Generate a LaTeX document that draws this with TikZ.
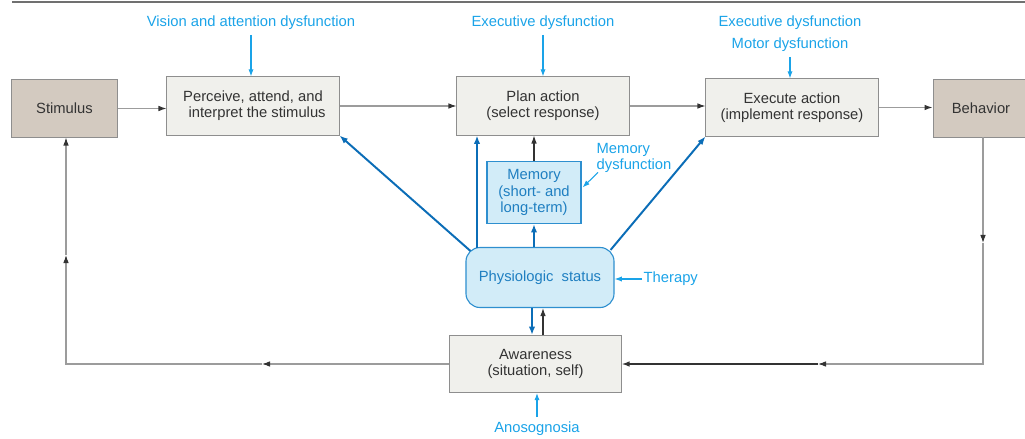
\documentclass[tikz,border=0pt]{standalone}
\usepackage{fontspec}
\setmainfont{Liberation Sans}
\usetikzlibrary{arrows.meta}
\definecolor{figink}{HTML}{333333}
\definecolor{figline}{HTML}{9C9C9C}
\definecolor{figrule}{HTML}{707070}
\definecolor{figboxfill}{HTML}{F0F0EC}
\definecolor{figboxdraw}{HTML}{8E8E8E}
\definecolor{figtan}{HTML}{D3CAC0}
\definecolor{figbluefill}{HTML}{D2ECF8}
\definecolor{figbluedraw}{HTML}{2E8FCF}
\definecolor{figbluetext}{HTML}{1F7FC1}
\definecolor{figblue}{HTML}{0B6DB7}
\definecolor{figcyan}{HTML}{1AA3E8}
\tikzset{
  figtext/.style={font=\fontsize{10.5}{11.6}\selectfont, text=figink},
  notetext/.style={font=\fontsize{10.5}{11.6}\selectfont, text=figcyan},
  greybox/.style={draw=figboxdraw, fill=figboxfill, line width=.7pt,
    figtext, align=center, minimum width=4.3cm, minimum height=1.45cm},
  tanbox/.style={draw=figboxdraw, fill=figtan, line width=.7pt,
    figtext, align=center, minimum height=1.425cm},
  memobox/.style={draw=figbluedraw, fill=figbluefill, line width=.8pt,
    font=\fontsize{10.5}{11.6}\selectfont, text=figbluetext, align=center,
    minimum width=2.35cm, minimum height=1.55cm, inner sep=1pt},
  physbox/.style={draw=figbluedraw, fill=figbluefill, line width=.8pt,
    rounded corners=.35cm, font=\fontsize{10.5}{11.6}\selectfont,
    text=figbluetext, minimum width=3.7cm, minimum height=1.5cm},
  grayflow/.style={-{Latex[length=2mm,width=1.4mm,color=figink]},
    draw=figline, line width=.75pt},
  darkflow/.style={-{Latex[length=2mm,width=1.4mm]}, draw=figink,
    line width=.75pt},
  darkline/.style={-{Latex[length=2mm,width=1.4mm]}, draw=figink,
    line width=1.2pt},
  blueflow/.style={-{Latex[length=2.1mm,width=1.6mm]}, draw=figblue,
    line width=1.4pt},
  noteflow/.style={-{Latex[length=1.8mm,width=1.3mm]}, draw=figcyan,
    line width=.75pt}
}

\begin{document}
\begin{tikzpicture}[x=0.025cm,y=-0.025cm]
  \clip (0,0) rectangle (1025,439);
  \coordinate (rulel) at (12,2);
  \coordinate (ruler) at (1025,2);
  \draw[figrule, line width=1pt] (rulel) -- (ruler);

  \node[tanbox, minimum width=2.625cm] (stim) at (64.5,108.5) {Stimulus};
  \node[greybox] (perc) at (253,106)
    {Perceive, attend, and\\ \ \ interpret the stimulus};
  \node[greybox] (plan) at (543,106) {Plan action\\(select response)};
  \node[greybox, minimum height=1.425cm] (exec) at (792,107.5)
    {Execute action\\(implement response)};
  \node[tanbox, minimum width=2.4cm] (beh) at (981,108.5) {Behavior};

  \node[memobox] (mem) at (534,192.5) {Memory\\(short- and\\long-term)};
  \node[physbox] (phys) at (540,277.5) {Physiologic\ \ status};
  \node[greybox, minimum width=4.275cm, minimum height=1.425cm] (aw)
    at (535.5,364) {Awareness\\(situation, self)};

  \node[notetext] (visdys) at (251,23) {Vision and attention dysfunction};
  \node[notetext] (plandys) at (543,23) {Executive dysfunction};
  \node[notetext, align=center] (execdys) at (790,34)
    {Executive dysfunction\\[4pt]Motor dysfunction};
  \node[notetext, align=left, anchor=west, inner sep=1pt] (memdys)
    at (595,158) {Memory\\dysfunction};
  \node[notetext, anchor=west, inner sep=1pt] (ther) at (642,279) {Therapy};
  \node[notetext] (anos) at (537,429) {Anosognosia};

  \draw[grayflow] (stim.east) -- (stim.east -| perc.west);
  \draw[grayflow] (perc.east) -- (plan.west);
  \draw[grayflow] (plan.east) -- (plan.east -| exec.west);
  \draw[grayflow] (exec.east) -- (exec.east -| beh.west);

  \draw[noteflow] (visdys.south) -- (visdys.south |- perc.north);
  \draw[noteflow] (plandys.south) -- (plandys.south |- plan.north);
  \draw[noteflow] (execdys.south) -- (execdys.south |- exec.north);
  \draw[noteflow] ([shift={(3,-2)}]memdys.south west) --
    ([shift={(1,-5)}]mem.east);
  \draw[noteflow] (ther.west) -- (ther.west -| phys.east);
  \draw[noteflow] (anos.north) -- (anos.north |- aw.south);

  \coordinate (colplan) at (477,0);
  \coordinate (coldown) at (532,0);
  \coordinate (colup) at (543,0);
  \draw[blueflow] ([shift={(5,4)}]phys.north west) -- (perc.south east);
  \draw[blueflow] ([yshift=-1]phys.north -| colplan) -- (plan.south -| colplan);
  \draw[blueflow] (phys.north -| mem.south) -- (mem.south);
  \draw[darkflow] (mem.north) -- (mem.north |- plan.south);
  \draw[blueflow] ([shift={(-4,3)}]phys.north east) -- (exec.south west);
  \draw[blueflow] (phys.south -| coldown) -- (aw.north -| coldown);
  \draw[darkflow] (aw.north -| colup) -- (phys.south -| colup);

  \coordinate (rv) at (983,243);
  \coordinate (rc) at (983,364);
  \coordinate (rh) at (818,364);
  \draw[grayflow] (beh.south -| rv) -- (rv);
  \draw[grayflow] (rv) -- (rc) -- (rh);
  \draw[darkline] (rh) -- (aw.east);

  \coordinate (lh) at (262,364);
  \coordinate (lc) at (66,364);
  \coordinate (lv) at (66,255);
  \draw[grayflow] (aw.west) -- (lh);
  \draw[grayflow] (lh) -- (lc) -- (lv);
  \draw[grayflow] (lv) -- (stim.south -| lv);
\end{tikzpicture}
\end{document}
